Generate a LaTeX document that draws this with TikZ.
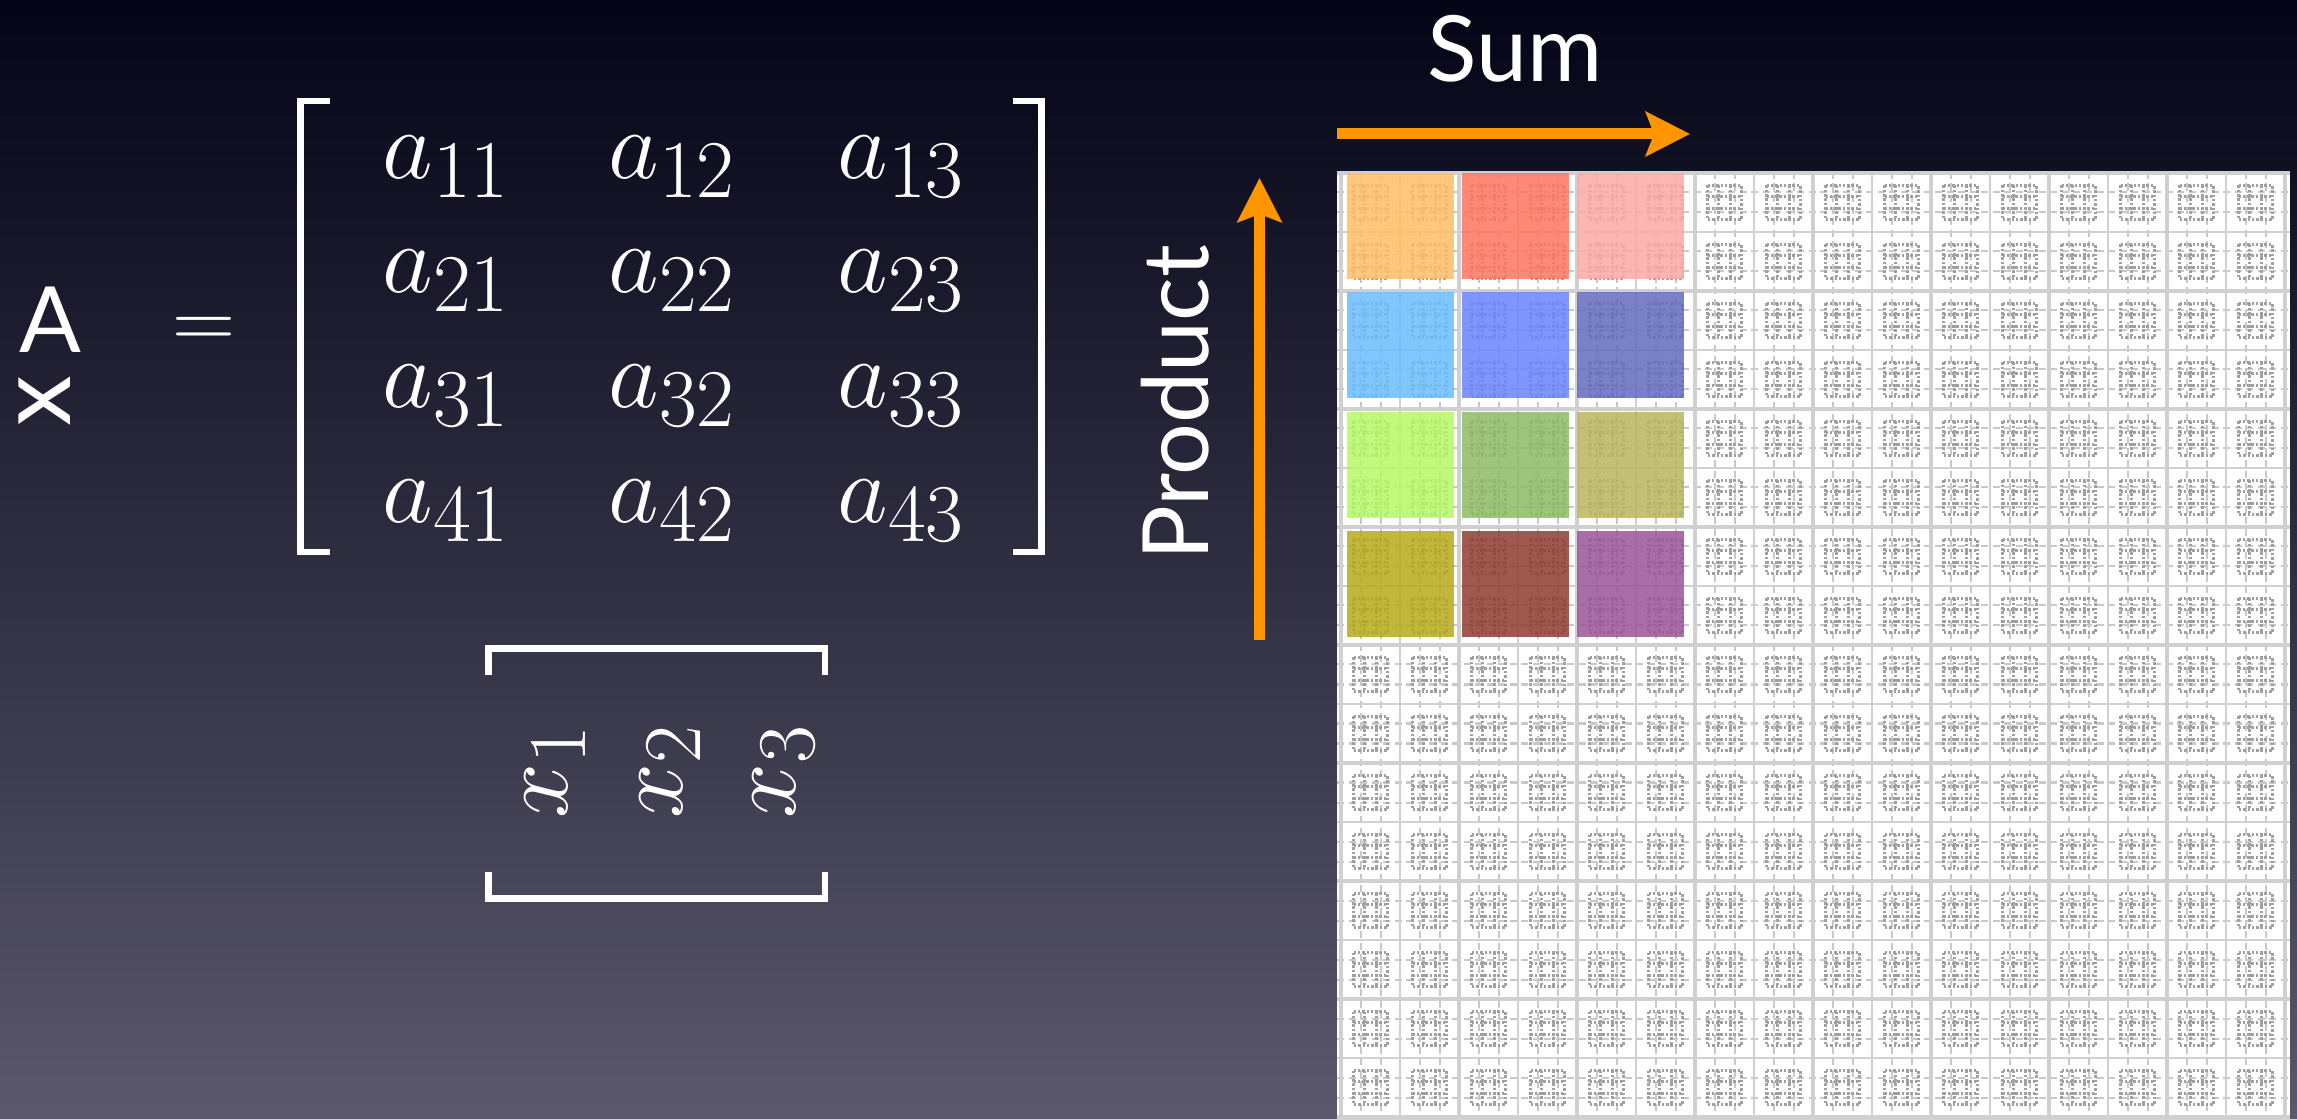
\documentclass[tikz,border=0pt]{standalone}
\usepackage{graphicx}
\usepackage{fontspec}
\newfontfamily\gill{Lato}
\usetikzlibrary{arrows.meta}
\definecolor{bgtop}{RGB}{3,4,22}
\definecolor{bgbot}{RGB}{90,88,106}
\definecolor{arr}{RGB}{255,150,0}
\definecolor{gridl}{RGB}{208,208,208}
\definecolor{dashl}{RGB}{200,200,200}
\definecolor{glyphl}{RGB}{160,160,160}
\definecolor{c11}{RGB}{255,190,102}
\definecolor{c12}{RGB}{255,117,96}
\definecolor{c13}{RGB}{255,169,164}
\definecolor{c21}{RGB}{106,190,255}
\definecolor{c22}{RGB}{106,131,255}
\definecolor{c23}{RGB}{99,108,190}
\definecolor{c31}{RGB}{181,249,102}
\definecolor{c32}{RGB}{143,186,101}
\definecolor{c33}{RGB}{186,183,96}
\definecolor{c41}{RGB}{181,171,26}
\definecolor{c42}{RGB}{143,61,49}
\definecolor{c43}{RGB}{155,84,155}
\newcommand{\mymath}[1]{\scalebox{1.125}{\Huge$#1$}}
\tikzset{
  lbl/.style={text=white, font=\gill\fontsize{26}{30}\selectfont, inner sep=0pt},
  mth/.style={text=white, inner sep=0pt},
  brk/.style={draw=white, line width=0.065cm, line join=miter, line cap=butt},
  orarrow/.style={draw=arr, line width=0.11cm, -{Stealth[length=0.44cm, width=0.44cm, inset=0.08cm]}},
  thickgrid/.style={draw=gridl, line width=0.035cm},
  thingrid/.style={draw=gridl, line width=0.025cm},
  dgrid/.style={draw=dashl, line width=0.02cm, dash pattern=on 0.07cm off 0.045cm},
  glyph/.style={draw=glyphl, line width=0.022cm, dash pattern=on 0.025cm off 0.018cm},
  cbox/.style={opacity=0.85}
}
\begin{document}
\begin{tikzpicture}[x=0.01cm, y=-0.01cm]
\useasboundingbox (0,0) rectangle (2297,1119);
\shade[top color=bgtop, bottom color=bgbot] (0,0) rectangle (2297,1119);

% left: A x =
\node[lbl, anchor=base] (A) at (50,353) {A};
\node[lbl, rotate=90, font=\gill\fontsize{29}{33}\selectfont] (X) at (45,401) {x};
\node[text=white, inner sep=0pt, anchor=base] (eq) at (203.5,349) {\Huge$=$};

% matrix A
\draw[brk] (330,101) -- (300.5,101) -- (300.5,552) -- (330,552);
\draw[brk] (1013,101) -- (1041.5,101) -- (1041.5,552) -- (1013,552);
\foreach \r/\y in {1/179,2/293,3/408,4/523}{
  \foreach \c/\x in {1/382,2/608,3/837}{
    \node[mth, anchor=base west] (a\r\c) at (\x,\y) {\mymath{a_{\r\c}}};
  }
}

% vector x (transposed)
\draw[brk] (488.5,675) -- (488.5,648.5) -- (825,648.5) -- (825,675);
\draw[brk] (488.5,872) -- (488.5,898.5) -- (825,898.5) -- (825,872);
\foreach \i/\x in {1/567,2/682,3/795}{
  \node[mth, rotate=90, anchor=base west] (x\i) at (\x,819) {\mymath{x_{\i}}};
}

% grid panel
\begin{scope}
\clip (1337,172) rectangle (2290,1119);
\fill[white] (1337,172) rectangle (2290,1119);
\foreach \i in {0,...,16}{
  \pgfmathsetmacro\cx{1370.5+59*\i}
  \draw[dgrid] (\cx-10,172) -- (\cx-10,1119) (\cx+10,172) -- (\cx+10,1119);
}
\foreach \j in {0,...,15}{
  \pgfmathsetmacro\cy{202.5+59*\j}
  \draw[dgrid] (1337,\cy-10) -- (2290,\cy-10) (1337,\cy+10) -- (2290,\cy+10);
}
\foreach \i in {0,...,17}{
  \pgfmathsetmacro\gx{1341+59*\i}
  \pgfmathtruncatemacro\ev{mod(\i,2)}
  \ifnum\ev=0 \draw[thickgrid] (\gx,172) -- (\gx,1119);
  \else \draw[thingrid] (\gx,172) -- (\gx,1119); \fi
}
\foreach \j in {0,...,16}{
  \pgfmathsetmacro\gy{173+59*\j}
  \pgfmathtruncatemacro\ev{mod(\j,2)}
  \ifnum\ev=0 \draw[thickgrid] (1337,\gy) -- (2290,\gy);
  \else \draw[thingrid] (1337,\gy) -- (2290,\gy); \fi
}
\foreach \i in {0,...,16}{
  \foreach \j in {0,...,15}{
    \pgfmathsetmacro\cx{1370.5+59*\i}
    \pgfmathsetmacro\cy{202.5+59*\j}
    \begin{scope}[shift={(\cx,\cy)}]
      \draw[glyph] (-17,-17) rectangle (17,17)
        (-6,-17) -- (-6,17) (6,-17) -- (6,17)
        (-17,-6) -- (17,-6) (-17,6) -- (17,6);
    \end{scope}
  }
}
% coloured blocks
\foreach \r/\y in {1/173,2/292,3/412,4/531}{
  \foreach \c/\x in {1/1347,2/1462,3/1577}{
    \fill[c\r\c, cbox] (\x,\y) rectangle ++(107,106);
  }
}
\end{scope}

% arrows and labels
\node[lbl, anchor=base] (S) at (1515,82) {Sum};
\coordinate (sumS) at (1337,134);
\coordinate (sumE) at (1690,134);
\draw[orarrow] (sumS) -- (sumE);

\node[lbl, rotate=90, anchor=base] (P) at (1208,403) {Product};
\coordinate (prodS) at (1259.5,640);
\coordinate (prodE) at (1259.5,178);
\draw[orarrow] (prodS) -- (prodE);
\end{tikzpicture}
\end{document}
